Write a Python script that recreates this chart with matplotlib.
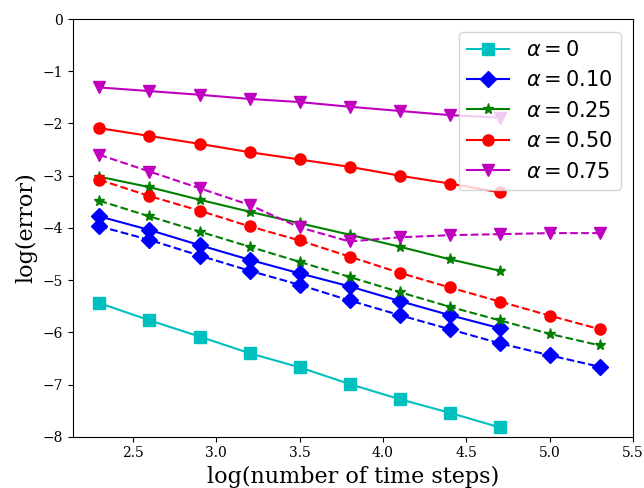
import matplotlib
matplotlib.use("Agg")
import matplotlib.pyplot as plt

x_short = [2.3, 2.6, 2.9, 3.2, 3.5, 3.8, 4.1, 4.4, 4.7]
x_long = [2.3, 2.6, 2.9, 3.2, 3.5, 3.8, 4.1, 4.4, 4.7, 5.0, 5.3]

a0_solid = [-5.44, -5.77, -6.08, -6.40, -6.67, -6.99, -7.28, -7.54, -7.82]
a10_solid = [-3.78, -4.04, -4.33, -4.61, -4.87, -5.12, -5.40, -5.67, -5.92]
a10_dash = [-3.97, -4.23, -4.53, -4.82, -5.09, -5.39, -5.67, -5.94, -6.21, -6.44, -6.66]
a25_solid = [-3.02, -3.22, -3.46, -3.69, -3.91, -4.13, -4.36, -4.60, -4.82]
a25_dash = [-3.48, -3.78, -4.07, -4.36, -4.65, -4.94, -5.23, -5.51, -5.77, -6.03, -6.25]
a50_solid = [-2.09, -2.24, -2.39, -2.55, -2.69, -2.83, -3.00, -3.15, -3.32]
a50_dash = [-3.08, -3.39, -3.67, -3.97, -4.24, -4.55, -4.86, -5.14, -5.41, -5.68, -5.94]
a75_solid = [-1.31, -1.38, -1.45, -1.53, -1.59, -1.68, -1.76, -1.84, -1.89]
a75_dash = [-2.60, -2.92, -3.24, -3.56, -3.99, -4.26, -4.18, -4.14, -4.12, -4.10, -4.10]

labels = [r'$\alpha = 0$', r'$\alpha = 0.10$', r'$\alpha = 0.25$', r'$\alpha = 0.50$', r'$\alpha = 0.75$']

fig = plt.figure(figsize=(6.44, 4.88), dpi=100)
ax = fig.add_axes([0.113, 0.105, 0.870, 0.856])

ms = 8
ax.plot(x_short, a0_solid, 'c-s', ms=ms, label=labels[0])
ax.plot(x_short, a10_solid, 'b-D', ms=ms, label=labels[1])
ax.plot(x_long, a10_dash, 'b--D', ms=ms)
ax.plot(x_short, a25_solid, 'g-*', ms=ms, label=labels[2])
ax.plot(x_long, a25_dash, 'g--*', ms=ms)
ax.plot(x_short, a50_solid, 'r-o', ms=ms, label=labels[3])
ax.plot(x_long, a50_dash, 'r--o', ms=ms)
ax.plot(x_short, a75_solid, 'm-v', ms=ms, label=labels[4])
ax.plot(x_long, a75_dash, 'm--v', ms=ms)

ax.set_xlim(2.14, 5.5)
ax.set_ylim(-8, 0)
ax.set_xticks([2.5, 3.0, 3.5, 4.0, 4.5, 5.0, 5.5])
ax.set_yticks([-8, -7, -6, -5, -4, -3, -2, -1, 0])
for lab in ax.get_xticklabels() + ax.get_yticklabels():
    lab.set_family('DejaVu Serif')
    lab.set_fontsize(10)
ax.set_xlabel('log(number of time steps)', family='DejaVu Serif', fontsize=16, labelpad=4)
ax.set_ylabel('log(error)', family='DejaVu Serif', fontsize=16)
ax.legend(loc='upper right', fontsize=15, borderaxespad=0.6)

fig.savefig('out.png', dpi=100)
